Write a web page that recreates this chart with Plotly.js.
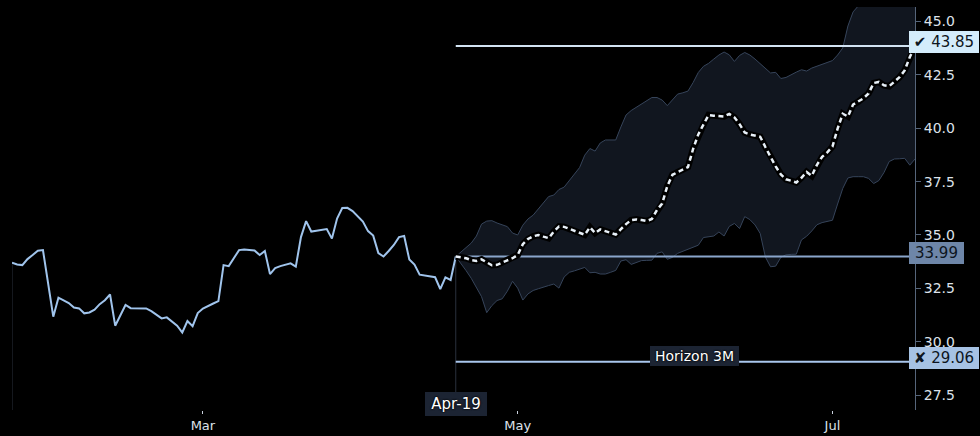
<!DOCTYPE html>
<html>
<head>
<meta charset="utf-8">
<script src="https://cdn.plot.ly/plotly-3.0.1.min.js"></script>
<style>
  html, body { margin: 0; padding: 0; background: #000; }
  #chart { width: 980px; height: 436px; }
</style>
</head>
<body>
<div id="chart"></div>
<script>
// ---- Data ----
const histStart = '2019-01-23';
const forecastStart = '2019-04-19';

const histValues = [
  33.70, 33.62, 33.59, 33.87, 34.06, 34.26, 34.29, 32.75, 31.17, 32.06,
  31.93, 31.81, 31.60, 31.56, 31.33, 31.37, 31.50, 31.76, 31.94, 32.21,
  30.75, 31.20, 31.72, 31.57, 31.56, 31.56, 31.56, 31.43, 31.27, 31.09,
  31.14, 30.94, 30.75, 30.43, 30.97, 30.73, 31.34, 31.55, 31.69, 31.79,
  31.90, 33.59, 33.54, 33.92, 34.29, 34.32, 34.29, 34.27, 34.06, 34.25,
  33.17, 33.45, 33.54, 33.61, 33.67, 33.52, 34.90, 35.65, 35.16, 35.20,
  35.23, 35.28, 34.83, 35.77, 36.26, 36.27, 36.12, 35.86, 35.63, 35.18,
  34.97, 34.15, 33.99, 34.25, 34.53, 34.90, 34.95, 33.85, 33.61, 33.14,
  33.09, 33.05, 33.02, 32.46, 33.01, 32.89, 33.99
];

const bandUpper = [
  33.99, 34.20, 34.39, 34.62, 34.95, 35.51, 35.65, 35.67, 35.56, 35.49,
  35.39, 35.09, 35.00, 35.46, 35.75, 35.93, 36.21, 36.54, 36.80, 36.87,
  37.13, 37.24, 37.53, 37.83, 38.16, 38.74, 39.05, 38.93, 39.31, 39.45,
  39.45, 39.45, 40.06, 40.62, 40.83, 40.99, 41.13, 41.29, 41.44, 41.44,
  41.32, 41.06, 41.32, 41.60, 41.66, 41.74, 42.14, 42.61, 42.90, 43.04,
  43.24, 43.43, 43.57, 43.44, 43.13, 43.41, 43.55, 43.43, 43.24, 43.02,
  42.77, 42.59, 42.62, 42.33, 42.38, 42.52, 42.63, 42.74, 42.68, 42.82,
  42.91, 42.99, 43.07, 43.17, 43.43, 43.76, 44.79, 45.45, 45.73, 46.00,
  46.20, 46.30, 46.50, 46.60, 46.70, 46.80, 47.00, 47.10, 47.20, 47.30
];

const bandLower = [
  33.99, 33.68, 33.33, 32.97, 32.57, 32.11, 31.36, 31.69, 31.93, 32.01,
  32.37, 32.83, 32.51, 31.95, 32.24, 32.40, 32.48, 32.54, 32.63, 32.70,
  32.51, 33.03, 33.25, 33.32, 33.40, 33.48, 33.23, 33.25, 33.17, 33.17,
  33.25, 33.34, 33.78, 33.84, 33.62, 33.71, 33.80, 33.81, 33.82, 34.14,
  34.21, 33.86, 33.95, 34.14, 34.24, 34.33, 34.42, 34.52, 34.88, 34.92,
  34.95, 35.14, 34.95, 35.40, 35.54, 35.30, 35.86, 35.72, 35.47, 35.07,
  33.97, 33.51, 33.54, 33.95, 34.07, 34.09, 34.10, 34.77, 34.94, 35.19,
  35.48, 35.58, 35.64, 35.69, 36.45, 37.18, 37.67, 37.73, 37.73, 37.73,
  37.65, 37.41, 37.55, 37.93, 38.44, 38.56, 38.57, 38.59, 38.27, 38.56
];

const forecastMedian = [
  33.99, 33.96, 33.91, 33.82, 33.78, 33.86, 33.71, 33.58, 33.60, 33.72,
  33.81, 33.91, 34.06, 34.57, 34.81, 34.94, 35.00, 34.92, 34.85, 35.16,
  35.40, 35.38, 35.29, 35.19, 35.09, 35.01, 35.36, 35.09, 35.26, 35.19,
  35.12, 35.02, 35.27, 35.51, 35.70, 35.73, 35.70, 35.65, 35.75, 36.17,
  36.47, 37.29, 37.82, 37.94, 38.06, 38.18, 39.03, 39.71, 40.17, 40.62,
  40.59, 40.56, 40.55, 40.67, 40.51, 40.19, 39.80, 39.71, 39.66, 39.60,
  39.12, 38.64, 38.21, 37.84, 37.61, 37.54, 37.46, 37.68, 37.95, 37.77,
  38.29, 38.66, 38.87, 39.14, 39.98, 40.68, 40.55, 41.11, 41.24, 41.40,
  41.63, 42.12, 42.17, 42.01, 41.97, 42.18, 42.39, 42.71, 43.34, 43.85
];

const levelValues = [43.85, 33.99, 29.06];
const levelLabels = ['✔ 43.85', '33.99', '✘ 29.06'];
const startLabel = 'Apr-19';
const horizonLabel = 'Horizon 3M';
const horizonDate = '2019-06-04 05:00';
const yTickVals = [27.5, 30.0, 32.5, 35.0, 37.5, 40.0, 42.5, 45.0];
const yRange = [26.8, 45.68];

// ---- Dates (daily) ----
function dailyDates(start, n) {
  const out = [];
  const d0 = new Date(start + 'T00:00:00Z');
  for (let i = 0; i < n; i++) {
    const d = new Date(d0.getTime() + i * 86400000);
    out.push(d.toISOString().slice(0, 10));
  }
  return out;
}
const histDates = dailyDates(histStart, histValues.length);
const fcDates = dailyDates(forecastStart, forecastMedian.length);
const endDate = fcDates[fcDates.length - 1];

const FONT = 'DejaVu Sans, Verdana, sans-serif';
const SHADOW = '0px 0px 2px #000, 0px 0px 2px #000';

const traces = [
  { x: fcDates, y: bandUpper, type: 'scatter', mode: 'lines',
    line: { color: '#36445a', width: 1 }, hoverinfo: 'skip', showlegend: false },
  { x: fcDates, y: bandLower, type: 'scatter', mode: 'lines', fill: 'tonexty',
    fillcolor: '#11161f', line: { color: '#36445a', width: 1 }, hoverinfo: 'skip', showlegend: false },
  { x: [forecastStart, endDate], y: [levelValues[0], levelValues[0]], type: 'scatter', mode: 'lines',
    line: { color: '#d2e3f2', width: 2 }, showlegend: false },
  { x: [forecastStart, endDate], y: [levelValues[1], levelValues[1]], type: 'scatter', mode: 'lines',
    line: { color: '#8aa5cb', width: 2 }, showlegend: false },
  { x: [forecastStart, endDate], y: [levelValues[2], levelValues[2]], type: 'scatter', mode: 'lines',
    line: { color: '#a9c6ec', width: 2 }, showlegend: false },
  { x: histDates, y: histValues, type: 'scatter', mode: 'lines',
    line: { color: '#a0c4ec', width: 2 }, showlegend: false },
  { x: fcDates, y: forecastMedian, type: 'scatter', mode: 'lines',
    line: { color: '#000000', width: 6.5 }, showlegend: false, hoverinfo: 'skip' },
  { x: fcDates, y: forecastMedian, type: 'scatter', mode: 'lines',
    line: { color: '#e8f0f8', width: 2.5, dash: '5px,3.5px' }, showlegend: false }
];

const boxColors = ['#d4ecfb', '#6e86a8', '#a6c2e4'];
const boxWidths = [66, 51, 66];
const annotations = levelValues.map((v, i) => ({
  xref: 'paper', x: 1, xanchor: 'left', xshift: -6,
  yref: 'y', y: v, yanchor: 'middle', yshift: 4,
  text: levelLabels[i], showarrow: false,
  font: { family: FONT, size: 15, color: '#0d1520' },
  bgcolor: boxColors[i], bordercolor: boxColors[i], borderwidth: 1, borderpad: 1,
  width: boxWidths[i]
}));
annotations.push({
  xref: 'x', x: forecastStart, xanchor: 'center',
  yref: 'paper', y: 0, yanchor: 'middle', yshift: 6,
  text: startLabel, showarrow: false,
  font: { family: FONT, size: 15, color: '#ffffff', shadow: SHADOW },
  bgcolor: '#1c2433', bordercolor: '#1c2433', borderwidth: 1, borderpad: 2, width: 56
});
annotations.push({
  xref: 'x', x: horizonDate, xanchor: 'center',
  yref: 'y', y: levelValues[2], yanchor: 'middle', yshift: 6,
  text: horizonLabel, showarrow: false,
  font: { family: FONT, size: 14, color: '#ffffff', shadow: SHADOW },
  bgcolor: '#1c2433', bordercolor: '#1c2433', borderwidth: 1, borderpad: 1, width: 85
});

const shapes = [
  { type: 'line', xref: 'x', x0: histStart, x1: histStart,
    yref: 'y', ysizemode: 'pixel', yanchor: histValues[0], y0: 0, y1: -300,
    line: { color: '#2a303c', width: 1 }, layer: 'below' },
  { type: 'line', xref: 'x', x0: forecastStart, x1: forecastStart,
    yref: 'y', ysizemode: 'pixel', yanchor: histValues[histValues.length - 1], y0: 0, y1: -300,
    line: { color: '#2a303c', width: 1 }, layer: 'below' }
];

const layout = {
  width: 980, height: 436,
  margin: { l: 12, r: 65, t: 7, b: 26, pad: 0 },
  paper_bgcolor: '#000000', plot_bgcolor: '#000000',
  showlegend: false,
  xaxis: {
    type: 'date', range: [histStart, endDate],
    dtick: 'M2', tickformat: '%b',
    showgrid: false, zeroline: false, showline: false,
    ticks: 'outside', ticklen: 3, tickwidth: 1, tickcolor: '#c8d0dc',
    tickfont: { family: FONT, size: 13, color: '#dde2ea', shadow: SHADOW }
  },
  yaxis: {
    side: 'right', range: yRange,
    tickvals: yTickVals, ticktext: yTickVals.map(v => v.toFixed(1)),
    showgrid: false, zeroline: false,
    showline: true, linecolor: '#56657a', linewidth: 1,
    ticks: 'outside', ticklen: 5, tickwidth: 1, tickcolor: '#56657a',
    tickfont: { family: FONT, size: 14, color: '#dde2ea', shadow: SHADOW }
  },
  annotations: annotations,
  shapes: shapes
};

Plotly.newPlot('chart', traces, layout, { staticPlot: true, displayModeBar: false });
</script>
</body>
</html>
